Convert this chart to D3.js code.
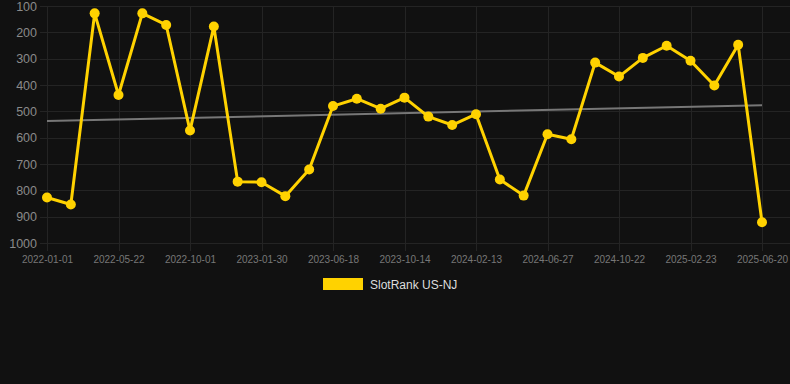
<!DOCTYPE html>
<html lang="en">
<meta charset="utf-8">
<head>
    <style>
        body { margin: 0; background: #111111; }
        .axis text { font-family: "Liberation Sans", Arial, sans-serif; }
    </style>
  <title></title>
</head>
<body>
<script src="https://d3js.org/d3.v7.min.js"></script>
<script>

  // data points (category axis, every 3rd label shown)
  const dates = [
    "2022-01-01", "2022-02-17", "2022-04-05", "2022-05-22", "2022-07-05", "2022-08-18",
    "2022-10-01", "2022-11-10", "2022-12-20", "2023-01-30", "2023-03-16", "2023-05-02",
    "2023-06-18", "2023-07-29", "2023-09-02", "2023-10-14", "2023-11-23", "2024-01-03",
    "2024-02-13", "2024-03-28", "2024-05-12", "2024-06-27", "2024-08-05", "2024-09-13",
    "2024-10-22", "2024-12-02", "2025-01-12", "2025-02-23", "2025-04-05", "2025-05-13",
    "2025-06-20"
  ];
  const ranks = [
    827, 854, 128, 438, 128, 172, 573, 178, 767, 769, 822, 721, 480, 452, 490, 448,
    520, 552, 511, 759, 820, 587, 606, 315, 368, 297, 251, 308, 402, 247, 921
  ];
  const xTickLabels = [
    "2022-01-01", "2022-05-22", "2022-10-01", "2023-01-30", "2023-06-18", "2023-10-14",
    "2024-02-13", "2024-06-27", "2024-10-22", "2025-02-23", "2025-06-20"
  ];
  const yTicks = [100, 200, 300, 400, 500, 600, 700, 800, 900, 1000];
  const seriesName = "SlotRank US-NJ";

  const W = 790, H = 384;
  const area = {left: 47, right: 762, top: 6, bottom: 243};

  const svg = d3.select("body").append("svg")
          .attr("width", W)
          .attr("height", H);

  svg.append("rect").attr("width", W).attr("height", H).attr("fill", "#111111");

  const x = d3.scalePoint().domain(dates).range([area.left, area.right]);
  const y = d3.scaleLinear().domain([100, 1000]).range([area.top, area.bottom]);

  // horizontal grid
  svg.append("g")
      .selectAll("line")
      .data(yTicks)
      .enter().append("line")
      .attr("x1", area.left - 7).attr("x2", W)
      .attr("y1", d => Math.round(y(d)) + 0.5)
      .attr("y2", d => Math.round(y(d)) + 0.5)
      .attr("stroke", "#242424");

  // vertical grid
  svg.append("g")
      .selectAll("line")
      .data(xTickLabels)
      .enter().append("line")
      .attr("x1", d => Math.round(x(d)) + 0.5)
      .attr("x2", d => Math.round(x(d)) + 0.5)
      .attr("y1", area.top).attr("y2", area.bottom + 8)
      .attr("stroke", "#242424");

  const yAxis = d3.axisLeft(y).tickValues(yTicks).tickFormat(d3.format("d"))
          .tickSize(0).tickPadding(0);
  svg.append("g")
      .attr("class", "axis")
      .attr("transform", "translate(" + (area.left - 10) + ",0)")
      .call(yAxis)
      .call(g => g.select(".domain").remove())
      .selectAll("text")
      .attr("fill", "#8a8a8a")
      .style("font-size", "12.5px");

  const xAxis = d3.axisBottom(x).tickValues(xTickLabels).tickSize(0).tickPadding(0);
  svg.append("g")
      .attr("class", "axis")
      .attr("transform", "translate(0," + (area.bottom + 13) + ")")
      .call(xAxis)
      .call(g => g.select(".domain").remove())
      .selectAll("text")
      .attr("fill", "#777777")
      .style("font-size", "10px");

  // trend line (least squares over index)
  const n = ranks.length;
  const mi = (n - 1) / 2, mv = d3.mean(ranks);
  let sxy = 0, sxx = 0;
  ranks.forEach((v, i) => { sxy += (i - mi) * (v - mv); sxx += (i - mi) * (i - mi); });
  const slope = sxy / sxx;
  const trend = [0, n - 1].map(i => ({ d: dates[i], v: mv + slope * (i - mi) }));

  svg.append("path")
      .datum(trend)
      .attr("fill", "none")
      .attr("stroke", "#777777")
      .attr("stroke-width", 2)
      .attr("d", d3.line().x(d => x(d.d)).y(d => y(d.v)));

  const pts = dates.map((d, i) => ({ d: d, v: ranks[i] }));

  svg.append("path")
      .datum(pts)
      .attr("fill", "none")
      .attr("stroke", "#ffd200")
      .attr("stroke-width", 3)
      .attr("stroke-linejoin", "round")
      .attr("d", d3.line().x(d => x(d.d)).y(d => y(d.v)));

  svg.append("g")
      .selectAll("circle")
      .data(pts)
      .enter().append("circle")
      .attr("cx", d => x(d.d))
      .attr("cy", d => y(d.v))
      .attr("r", 5)
      .attr("fill", "#ffd200");

  // legend
  const legend = svg.append("g").attr("transform", "translate(323,278)");
  legend.append("rect").attr("width", 40).attr("height", 12).attr("fill", "#ffd200");
  legend.append("text")
      .attr("x", 47).attr("y", 10.5)
      .attr("fill", "#dddddd")
      .style("font-family", "Liberation Sans, Arial, sans-serif")
      .style("font-size", "12px")
      .text(seriesName);

</script>
</body>
</html>
